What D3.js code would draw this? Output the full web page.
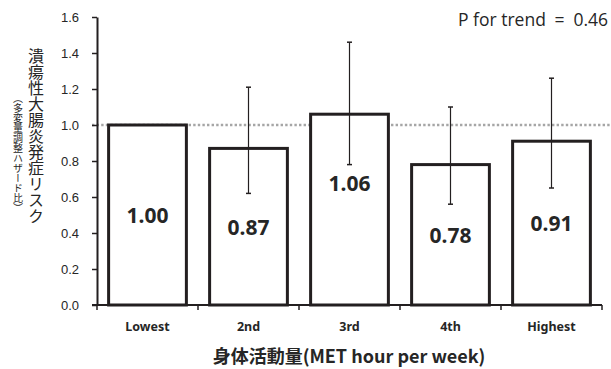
<!DOCTYPE html>
<html>
<head>
<meta charset="utf-8">
<script src="https://cdn.jsdelivr.net/npm/d3@7"></script>
<style>
  body { margin: 0; background: #fff; }
  svg { display: block; }
</style>
</head>
<body>
<div id="chart"></div>
<script>
// Data
const categories = ['Lowest', '2nd', '3rd', '4th', 'Highest'];
const hr = [1.00, 0.87, 1.06, 0.78, 0.91];
const ciLow = [null, 0.62, 0.78, 0.56, 0.65];
const ciHigh = [null, 1.21, 1.46, 1.10, 1.26];
// where the value label sits, in hazard-ratio units
const labelAt = [0.50, 0.435, 0.68, 0.39, 0.455];
const yTicks = [0, 0.2, 0.4, 0.6, 0.8, 1.0, 1.2, 1.4, 1.6];

const W = 611, H = 369;
const ink = '#231f20';

const svg = d3.select('#chart').append('svg')
    .attr('width', W)
    .attr('height', H);

// Scales
const x = d3.scaleBand().domain(categories).range([97, 602]).padding(0);
const y = d3.scaleLinear().domain([0, 1.6]).range([305, 17]);
const barW = x.bandwidth() * 0.77;

// Reference line at HR = 1.0
svg.append('line')
    .attr('x1', 92).attr('x2', W)
    .attr('y1', y(1)).attr('y2', y(1))
    .attr('stroke', '#a6a6a6')
    .attr('stroke-width', 2.5)
    .attr('stroke-dasharray', '2.4,2.2');

// Bars
svg.append('g').selectAll('rect')
    .data(categories)
    .join('rect')
    .attr('x', d => x(d) + (x.bandwidth() - barW) / 2)
    .attr('y', (d, i) => y(hr[i]))
    .attr('width', barW)
    .attr('height', (d, i) => y(0) - y(hr[i]))
    .attr('fill', '#fff')
    .attr('stroke', ink)
    .attr('stroke-width', 3);

// Error bars
const eg = svg.append('g');
categories.forEach((c, i) => {
    if (ciLow[i] == null) return;
    const cx = x(c) + x.bandwidth() / 2;
    eg.append('line')
        .attr('x1', cx).attr('x2', cx)
        .attr('y1', y(ciLow[i])).attr('y2', y(ciHigh[i]))
        .attr('stroke', ink).attr('stroke-width', 1.2);
    [ciLow[i], ciHigh[i]].forEach(v => {
        eg.append('line')
            .attr('x1', cx - 2.5).attr('x2', cx + 2.5)
            .attr('y1', y(v)).attr('y2', y(v))
            .attr('stroke', ink).attr('stroke-width', 1.5);
    });
});

// Value labels
svg.append('g').selectAll('text')
    .data(categories)
    .join('text')
    .attr('x', d => x(d) + x.bandwidth() / 2)
    .attr('y', (d, i) => y(labelAt[i]))
    .attr('text-anchor', 'middle')
    .attr('dominant-baseline', 'central')
    .attr('font-family', '"Noto Sans", "Open Sans", sans-serif')
    .attr('font-weight', 700)
    .attr('font-size', 21)
    .attr('fill', '#262626')
    .text((d, i) => hr[i].toFixed(2));

// Y axis
const yAxis = svg.append('g')
    .attr('transform', `translate(${x.range()[0]},0)`)
    .call(d3.axisLeft(y).tickValues(yTicks).tickFormat(d3.format('.1f'))
        .tickSize(5).tickPadding(13).tickSizeOuter(0));
yAxis.select('.domain').attr('stroke', ink).attr('stroke-width', 2);
yAxis.selectAll('.tick line').attr('stroke', ink).attr('stroke-width', 1.5);
yAxis.selectAll('.tick text')
    .attr('font-family', '"Liberation Sans", Arial, sans-serif')
    .attr('font-size', 13)
    .attr('fill', '#262626');

// X axis
const xg = svg.append('g');
xg.append('line')
    .attr('x1', x.range()[0] - 5).attr('x2', x.range()[1])
    .attr('y1', y(0)).attr('y2', y(0))
    .attr('stroke', ink).attr('stroke-width', 2);
const edges = categories.map(c => x(c)).concat([x.range()[1]]);
xg.selectAll('line.xtick')
    .data(edges)
    .join('line')
    .attr('class', 'xtick')
    .attr('x1', d => d).attr('x2', d => d)
    .attr('y1', y(0)).attr('y2', y(0) + 5)
    .attr('stroke', ink).attr('stroke-width', 1.5);
xg.selectAll('text')
    .data(categories)
    .join('text')
    .attr('x', d => x(d) + x.bandwidth() / 2)
    .attr('y', 331)
    .attr('text-anchor', 'middle')
    .attr('font-family', '"Noto Sans", "Open Sans", sans-serif')
    .attr('font-weight', 700)
    .attr('font-size', 12.5)
    .attr('fill', '#262626')
    .text(d => d);

// X title
svg.append('text')
    .attr('x', 349)
    .attr('y', 363)
    .attr('text-anchor', 'middle')
    .attr('font-family', '"Noto Sans CJK JP", "Noto Sans", sans-serif')
    .attr('font-weight', 700)
    .attr('font-size', 18)
    .attr('fill', '#262626')
    .text('身体活動量(MET hour per week)');

// Y titles (vertical)
svg.append('text')
    .attr('x', 36)
    .attr('y', 48)
    .style('writing-mode', 'vertical-rl')
    .style('text-orientation', 'upright')
    .attr('font-family', '"Noto Sans CJK JP", sans-serif')
    .attr('font-size', 16)
    .attr('fill', '#262626')
    .text('潰瘍性大腸炎発症リスク');
svg.append('text')
    .attr('x', 18)
    .attr('y', 93)
    .style('writing-mode', 'vertical-rl')
    .attr('font-family', '"Noto Sans CJK JP", sans-serif')
    .attr('font-size', 10)
    .attr('fill', '#262626')
    .text('（多変量調整ハザード比）');

// P for trend
svg.append('text')
    .attr('x', 608)
    .attr('y', 26)
    .attr('text-anchor', 'end')
    .attr('font-family', '"Open Sans", "Noto Sans", sans-serif')
    .attr('font-size', 17.5)
    .attr('fill', '#262626')
    .text('P for trend\u2002=\u20020.46');
</script>
</body>
</html>
